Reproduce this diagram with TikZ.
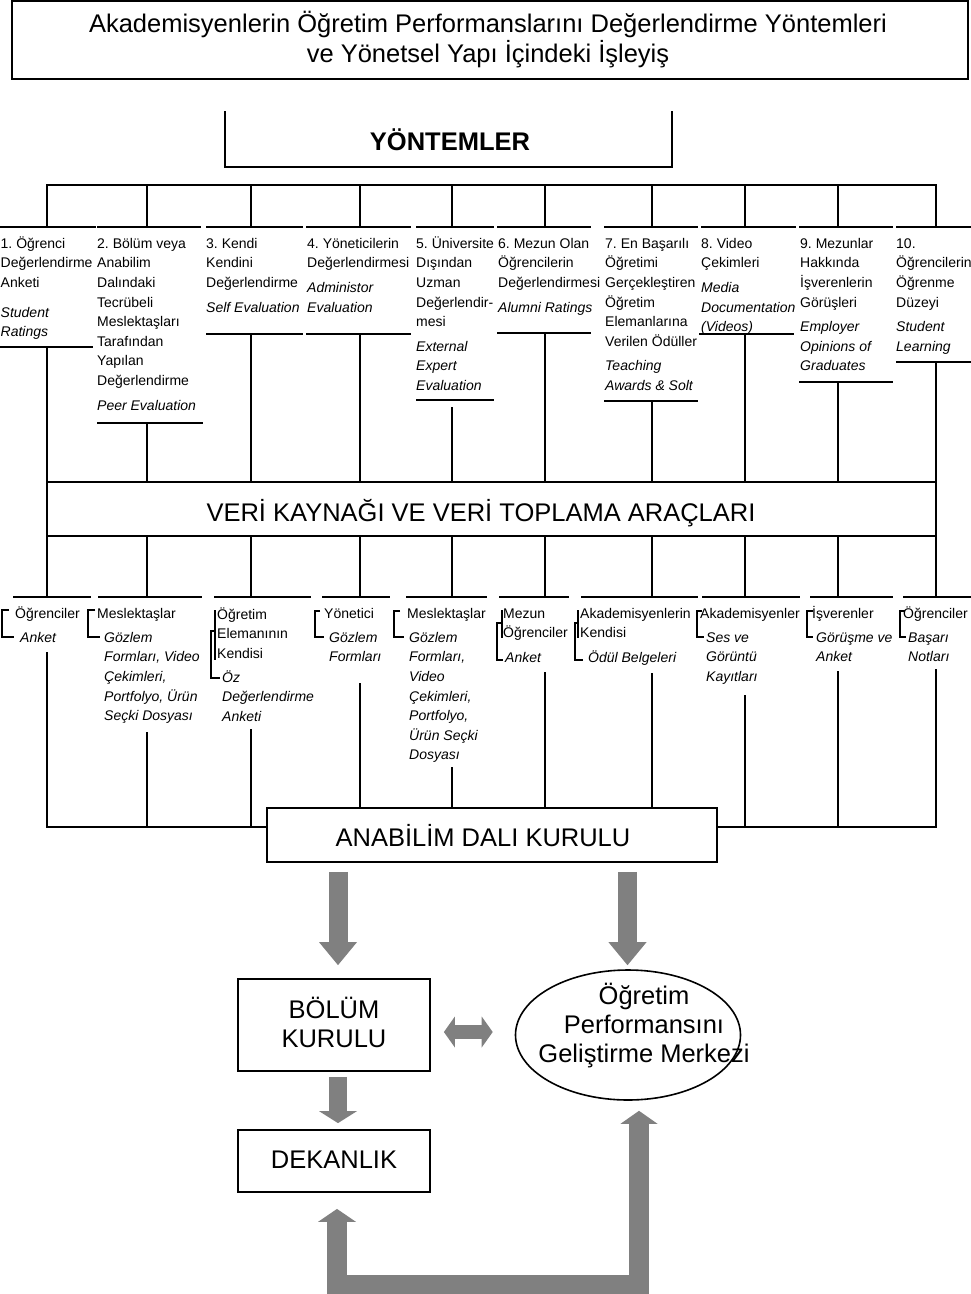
\documentclass[tikz,border=0pt]{standalone}
\usepackage{fontspec}
\setmainfont{Liberation Sans}
\usetikzlibrary{arrows.meta,calc,shapes.geometric}
\definecolor{arrowgray}{RGB}{128,128,128}
\newcommand{\cst}{\rule{0pt}{14pt}}
\newcommand{\bst}{\rule{0pt}{25pt}}
\frenchspacing
\begin{document}
\begin{tikzpicture}[x=1pt,y=-1pt,
  ln/.style={line width=1.8pt, line cap=rect},
  cell/.style={anchor=north west, inner sep=0pt, align=left, font=\fontsize{14pt}{19.6pt}\selectfont},
  cellit/.style={cell, font=\fontsize{14pt}{19.6pt}\selectfont\itshape},
  big/.style={inner sep=0pt, font=\fontsize{25.5pt}{30pt}\selectfont},
  bigtwo/.style={inner sep=0pt, align=center, anchor=north, font=\fontsize{25.5pt}{29pt}\selectfont},
  box/.style={draw, line width=1.8pt, inner sep=0pt},
  garrow/.style={draw=arrowgray, line join=miter},
]
\fill[white] (0,0) rectangle (971,1294);
\useasboundingbox (0,0) rectangle (971,1294);

% title
\node[box, minimum width=956pt, minimum height=78pt] (title) at (490,40) {};
\node[big, align=center, anchor=north] (titletext) at (488,7) {\bst Akademisyenlerin Öğretim Performanslarını Değerlendirme Yöntemleri\\ve Yönetsel Yapı İçindeki İşleyiş};

% YONTEMLER
\coordinate (yl) at (225,111);
\coordinate (yr) at (672,111);
\draw[ln, line cap=butt] (yl) -- (225,167) -- (672,167) -- (yr);
\node[big, anchor=base, font=\fontsize{25.5pt}{30pt}\selectfont\bfseries] (yontemler) at (450,150) {YÖNTEMLER};

% upper bus
\draw[ln] (47,185) -- (936,185);
\foreach \x in {47,147,251,360,452,545,652,745,838,936} {
  \draw[ln] (\x,185) -- (\x,227);
  \draw[ln] (\x,536) -- (\x,597);
}
\foreach \a/\b in {0/95, 98/200, 207/302, 307/410, 417/493, 498/590, 605/697, 702/795, 800/892, 897/971}
  \draw[ln] (\a,227) -- (\b,227);
\foreach \a/\b/\y/\x/\s in {0/92/347/47/347, 98/202/423/147/423, 207/302/334/251/334, 307/410/334/360/334, 417/493/400/452/408, 498/590/333/545/333, 605/697/401/652/401, 700/793/334/745/334, 800/892/382/838/382, 897/971/362/936/362} {
  \draw[ln] (\a,\y) -- (\b,\y);
  \draw[ln] (\x,\s) -- (\x,482);
}

% method cells
\node[cell] (m1) at (0.5,234) {\cst 1. Öğrenci\\Değerlendirme\\Anketi\\[10pt]\textit{Student}\\\textit{Ratings}};
\node[cell] (m2) at (97,234) {\cst 2. Bölüm veya\\Anabilim\\Dalındaki\\Tecrübeli\\Meslektaşları\\Tarafından\\Yapılan\\Değerlendirme\\[5pt]\textit{Peer Evaluation}};
\node[cell] (m3) at (206,234) {\cst 3. Kendi\\Kendini\\Değerlendirme\\[5pt]\textit{Self Evaluation}};
\node[cell] (m4) at (307,234) {\cst 4. Yöneticilerin\\Değerlendirmesi\\[5pt]\textit{Administor}\\\textit{Evaluation}};
\node[cell] (m5) at (416,234) {\cst 5. Üniversite\\Dışından\\Uzman\\Değerlendir-\\mesi\\[5pt]\textit{External}\\\textit{Expert}\\\textit{Evaluation}};
\node[cell] (m6) at (498,234) {\cst 6. Mezun Olan\\Öğrencilerin\\Değerlendirmesi\\[5pt]\textit{Alumni Ratings}};
\node[cell] (m7) at (605,234) {\cst 7. En Başarılı\\Öğretimi\\Gerçekleştiren\\Öğretim\\Elemanlarına\\Verilen Ödüller\\[5pt]\textit{Teaching}\\\textit{Awards \& Solt}};
\node[cell] (m8) at (701,234) {\cst 8. Video\\Çekimleri\\[5pt]\textit{Media}\\\textit{Documentation}\\\textit{(Videos)}};
\node[cell] (m9) at (800,234) {\cst 9. Mezunlar\\Hakkında\\İşverenlerin\\Görüşleri\\[5pt]\textit{Employer}\\\textit{Opinions of}\\\textit{Graduates}};
\node[cell] (m10) at (896,234) {\cst 10.\\Öğrencilerin\\Öğrenme\\Düzeyi\\[5pt]\textit{Student}\\\textit{Learning}};

% data source box
\node[box, minimum width=889pt, minimum height=54pt] (veri) at (491.5,509) {};
\node[big, anchor=base] (veritext) at (481,521) {VERİ KAYNAĞI VE VERİ TOPLAMA ARAÇLARI};

% lower segments
\foreach \a/\b in {14/90, 99/201, 215/310, 323/389, 407/486, 500/568, 582/697, 703/799, 811/892, 904/971}
  \draw[ln] (\a,597) -- (\b,597);

% source cells
\node[cell] (s1n) at (15,604) {\cst Öğrenciler};
\node[cellit] (s1t) at (20,628) {\cst Anket};
\node[cell] (s2n) at (97,604) {\cst Meslektaşlar};
\node[cellit] (s2t) at (104,628) {\cst Gözlem\\Formları, Video\\Çekimleri,\\Portfolyo, Ürün\\Seçki Dosyası};
\node[cell] (s3n) at (217,605) {\cst Öğretim\\Elemanının\\Kendisi};
\node[cellit] (s3t) at (222,668) {\cst Öz\\Değerlendirme\\Anketi};
\node[cell] (s4n) at (324,604) {\cst Yönetici};
\node[cellit] (s4t) at (329,628) {\cst Gözlem\\Formları};
\node[cell] (s5n) at (407,604) {\cst Meslektaşlar};
\node[cellit] (s5t) at (409,628) {\cst Gözlem\\Formları,\\Video\\Çekimleri,\\Portfolyo,\\Ürün Seçki\\Dosyası};
\node[cell] (s6n) at (503,604) {\cst Mezun\\Öğrenciler};
\node[cellit] (s6t) at (505,648) {\cst Anket};
\node[cell] (s7n) at (580,604) {\cst Akademisyenlerin\\Kendisi};
\node[cellit] (s7t) at (588,648) {\cst Ödül Belgeleri};
\node[cell] (s8n) at (700,604) {\cst Akademisyenler};
\node[cellit] (s8t) at (706,628) {\cst Ses ve\\Görüntü\\Kayıtları};
\node[cell] (s9n) at (812,604) {\cst İşverenler};
\node[cellit] (s9t) at (816,628) {\cst Görüşme ve\\Anket};
\node[cell] (s10n) at (903,604) {\cst Öğrenciler};
\node[cellit] (s10t) at (908,628) {\cst Başarı\\Notları};

% brackets
\draw[ln, line cap=butt] (9,610) -- (2,610) -- (2,637) -- (14,637);
\draw[ln, line cap=butt] (95,610) -- (88,610) -- (88,637) -- (100,637);
\draw[ln, line cap=butt] (215,610) -- (215,660);
\draw[ln, line cap=butt] (215,631) -- (211,631) -- (211,678) -- (220,678);
\draw[ln, line cap=butt] (320,611) -- (315,611) -- (315,637) -- (324,637);
\draw[ln, line cap=butt] (400,611) -- (394,611) -- (394,637) -- (404,637);
\draw[ln, line cap=butt] (502,610) -- (502,638);
\draw[ln, line cap=butt] (502,623) -- (497,623) -- (497,660) -- (503,660);
\draw[ln, line cap=butt] (578,610) -- (578,638);
\draw[ln, line cap=butt] (578,623) -- (575,623) -- (575,660) -- (583,660);
\draw[ln, line cap=butt] (702,611) -- (697,611) -- (697,637) -- (704,637);
\draw[ln, line cap=butt] (813,611) -- (807,611) -- (807,637) -- (813,637);
\draw[ln, line cap=butt] (905,611) -- (900,611) -- (900,637) -- (906,637);

% department board
\node[box, minimum width=450pt, minimum height=54pt] (anabilim) at (492,835) {};
\node[big, anchor=base] (anabilimtext) at (483,846) {ANABİLİM DALI KURULU};

% lower collectors
\draw[ln] (47,653) -- (47,827) -- (anabilim.west |- 0,827);
\draw[ln] (147,733) -- (147,827);
\draw[ln] (251,730) -- (251,827);
\foreach \x/\s in {360/684, 452/768, 545/673, 652/674}
  \draw[ln] (\x,\s) -- (\x,808);
\draw[ln] (745,696) -- (745,827);
\draw[ln] (838,672) -- (838,827);
\draw[ln] (936,670) -- (936,827) -- (anabilim.east |- 0,827);

% lower boxes
\node[box, minimum width=192pt, minimum height=92pt] (bolum) at (334,1025) {};
\node[bigtwo] (bolumtext) at (334,993) {\bst BÖLÜM\\KURULU};
\node[box, minimum width=192pt, minimum height=62pt] (dekanlik) at (334,1161) {};
\node[big, anchor=base] (dekanliktext) at (334,1168) {DEKANLIK};
\node[draw, ellipse, line width=1.6pt, minimum width=225pt, minimum height=130pt, inner sep=0pt] (ogm) at (628,1035) {};
\node[bigtwo] (ogmtext) at (644,979) {\bst Öğretim\\Performansını\\Geliştirme Merkezi};

% block arrows
\draw[garrow, line width=19pt, -{Triangle[width=38pt,length=23pt,line width=0pt]}] ($(anabilim.south)+(-154,9)$) -- ($(bolum.north)+(4,-13)$);
\draw[garrow, line width=19pt, -{Triangle[width=38pt,length=23pt,line width=0pt]}] ($(anabilim.south)+(135.5,9)$) -- ($(ogm.north)+(-0.5,-4)$);
\draw[garrow, line width=18pt, -{Triangle[width=38pt,length=12pt,line width=0pt]}] ($(bolum.south)+(4,5)$) -- ($(dekanlik.north)+(4,-6)$);
\draw[garrow, line width=14pt, {Triangle[width=31pt,length=11pt,line width=0pt]}-{Triangle[width=31pt,length=11pt,line width=0pt]}] ($(bolum.east)+(13,7)$) -- ($(ogm.west)+(-22,-3)$);
\draw[garrow, line width=20pt, {Triangle[width=38pt,length=13pt,line width=0pt]}-{Triangle[width=37pt,length=13pt,line width=0pt]}] ($(dekanlik.south)+(3,16)$) -- ($(dekanlik.south)+(3,92)$) -| ($(ogm.south)+(11,10)$);
\end{tikzpicture}
\end{document}
